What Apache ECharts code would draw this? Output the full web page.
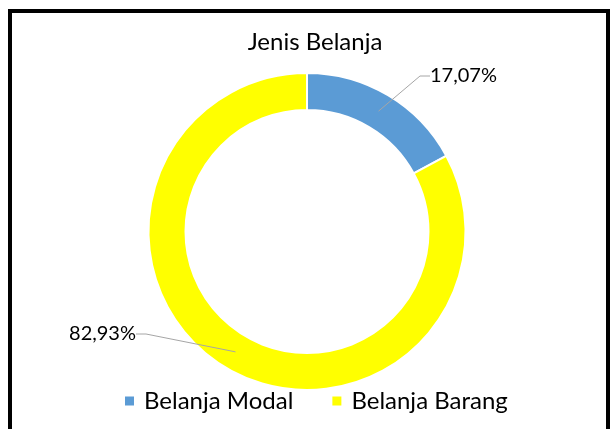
<!DOCTYPE html>
<html><head><meta charset="utf-8">
<script src="https://cdn.jsdelivr.net/npm/echarts@6/dist/echarts.min.js"></script>
<style>html,body{margin:0;padding:0;background:#fff}#c{width:611px;height:429px}</style>
</head><body><div id="c"></div>
<script>
const title = 'Jenis Belanja';
const categories = ['Belanja Modal', 'Belanja Barang'];
const values = [17.07, 82.93];
const valueLabels = ['17,07%', '82,93%'];
const colors = ['#5B9BD5', '#FFFF00'];

const FONT = 'Lato';
const data = categories.map((c, i) => ({ name: c, value: values[i], itemStyle: { color: colors[i] } }));
const labelData = categories.map((c, i) => ({ name: c, value: values[i], label: { formatter: valueLabels[i] } }));
const labelPos = [{ x: 425, y: 76, align: 'left' }, { x: 141, y: 334, align: 'right' }];

const chart = echarts.init(document.getElementById('c'), null, { renderer: 'canvas' });
chart.setOption({
  animation: false,
  backgroundColor: '#fff',
  color: colors,
  title: {
    text: title, left: 310, top: 25, textAlign: 'center',
    textStyle: { fontFamily: FONT, fontSize: 24, fontWeight: 'normal', color: '#000' }
  },
  legend: {
    data: categories, left: 118, top: 384,
    icon: 'rect', itemWidth: 11, itemHeight: 11, itemGap: 37,
    textStyle: { fontFamily: FONT, fontSize: 24, color: '#000', padding: [0, 0, 0, 4] }
  },
  graphic: [{
    type: 'rect', shape: { x: 10, y: 11, width: 598, height: 440 },
    style: { fill: 'none', stroke: '#000', lineWidth: 4 }, z: 100, silent: true
  }],
  series: [{
    type: 'pie', center: [307, 231.5], radius: [121.5, 158.5],
    startAngle: 90, clockwise: true, silent: true,
    itemStyle: { borderColor: '#fff', borderWidth: 2 },
    label: { show: false }, labelLine: { show: false },
    data: data
  }, {
    type: 'pie', center: [307, 231.5], radius: [0, 140],
    startAngle: 90, clockwise: true, silent: true, z: 5,
    itemStyle: { color: 'rgba(0,0,0,0)' },
    label: { show: true, fontFamily: FONT, fontSize: 20, color: '#000', padding: [0, 5] },
    labelLine: { show: true, length: 40, length2: 10, lineStyle: { color: '#A6A6A6', width: 1 } },
    labelLayout: function (p) {
      const q = labelPos[p.dataIndex];
      return { x: q.x, y: q.y, align: q.align, verticalAlign: 'middle' };
    },
    data: labelData
  }]
});
</script></body></html>
